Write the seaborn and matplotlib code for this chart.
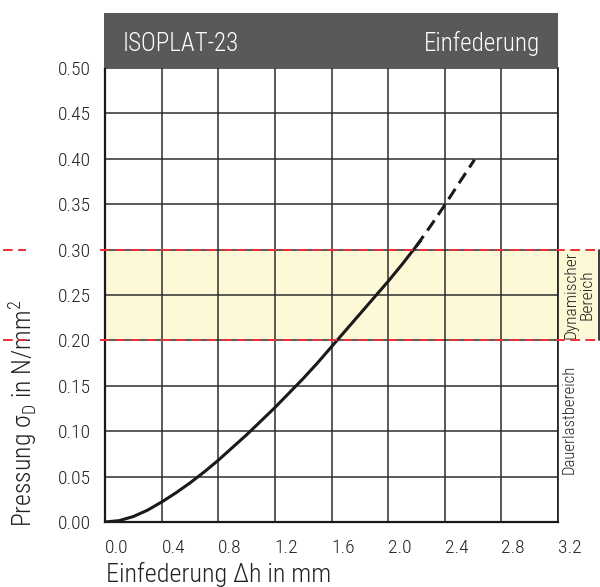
import matplotlib
matplotlib.use("Agg")
import matplotlib.pyplot as plt
import seaborn as sns
import pandas as pd
from matplotlib.patches import Rectangle
from matplotlib.lines import Line2D
from matplotlib import font_manager

# ---- data ----
x_solid = [0.0, 0.1, 0.2, 0.3, 0.4, 0.5, 0.6, 0.7, 0.8, 0.9, 1.0, 1.1, 1.2, 1.3, 1.4, 1.5,
           1.6, 1.7, 1.8, 1.9, 2.0, 2.1, 2.2, 2.23]
y_solid = [0.0, 0.0015, 0.006, 0.013, 0.022, 0.032, 0.043, 0.055, 0.068, 0.082, 0.096, 0.111,
           0.126, 0.142, 0.158, 0.175, 0.193, 0.211, 0.229, 0.247, 0.265, 0.284, 0.304, 0.310]
x_dash = [2.2, 2.3, 2.4, 2.5, 2.61]
y_dash = [0.304, 0.326, 0.349, 0.373, 0.399]
x_ticks = [0.0, 0.4, 0.8, 1.2, 1.6, 2.0, 2.4, 2.8, 3.2]
y_ticks = [0.00, 0.05, 0.10, 0.15, 0.20, 0.25, 0.30, 0.35, 0.40, 0.45, 0.50]
dyn_low, dyn_high = 0.20, 0.30
title_left = "ISOPLAT-23"
title_right = "Einfederung"
x_label = "Einfederung Δh in mm"
y_label = "Pressung σ$_{\\mathregular{D}}$ in N/mm$^{\\mathregular{2}}$"
dyn_label = "Dynamischer\nBereich"
dauer_label = "Dauerlastbereich"

names = {f.name for f in font_manager.fontManager.ttflist}
fam = [n for n in ['Roboto Condensed', 'Liberation Sans Narrow', 'Roboto'] if n in names][:1] + ['DejaVu Sans']

sns.set_theme(style="white")
plt.rcParams['font.family'] = fam
plt.rcParams['font.weight'] = 'light'
plt.rcParams['mathtext.fontset'] = 'custom'
plt.rcParams['mathtext.rm'] = fam[0] + ':light'

W, H = 600, 587
fig = plt.figure(figsize=(W / 100, H / 100), dpi=100)
fig.patch.set_facecolor('white')

def fx(px):
    return px / W

def fy(py):
    return 1 - py / H

L, R, T, B = 105, 558, 68, 522
ax = fig.add_axes([fx(L), fy(B), fx(R) - fx(L), fy(T) - fy(B)])
ax.set_xlim(0, 3.2)
ax.set_ylim(0, 0.5)

ax.axhspan(dyn_low, dyn_high, color='#fdf8d6', zorder=0, lw=0)

ax.set_xticks(x_ticks)
ax.set_yticks(y_ticks)
ax.set_xticklabels([f"{v:.1f}" for v in x_ticks], ha='left', fontsize=14)
ax.set_yticklabels([f"{v:.2f}" for v in y_ticks], fontsize=14)
ax.grid(True, color='#2e2e2e', lw=1.1, zorder=1)
ax.set_axisbelow(True)
ax.tick_params(axis='both', length=0, colors='#222222')
ax.tick_params(axis='x', pad=12)
ax.tick_params(axis='y', pad=10)
ax.spines['top'].set_visible(False)
for s in ['left', 'bottom']:
    ax.spines[s].set_color('#1a1a1a')
    ax.spines[s].set_linewidth(1.6)
ax.spines['right'].set_color('#1a1a1a')
ax.spines['right'].set_linewidth(1.2)

df_s = pd.DataFrame({'x': x_solid, 'y': y_solid})
df_d = pd.DataFrame({'x': x_dash, 'y': y_dash})
sns.lineplot(data=df_s, x='x', y='y', ax=ax, color='#1a1a1a', lw=2.2, sort=False, zorder=5)
sns.lineplot(data=df_d, x='x', y='y', ax=ax, color='#1a1a1a', lw=2.2, sort=False, zorder=5,
             linestyle=(0, (4, 2.2)))
ax.set_xlabel('')
ax.set_ylabel('')

# header box
fig.add_artist(Rectangle((fx(L - 1), fy(T)), fx(R) - fx(L - 1), fy(13) - fy(T), transform=fig.transFigure,
                         facecolor='#58595b', edgecolor='none'))
fig.text(fx(123), fy(51), title_left, color='white', fontsize=18, ha='left', va='baseline')
fig.text(fx(540), fy(51), title_right, color='white', fontsize=18, ha='right', va='baseline')

# right strip
y_hi_px = B - (B - T) * dyn_high / 0.5
y_lo_px = B - (B - T) * dyn_low / 0.5
fig.add_artist(Rectangle((fx(R), fy(y_lo_px)), fx(599) - fx(R), fy(y_hi_px) - fy(y_lo_px),
                         transform=fig.transFigure, facecolor='#fdf8d6', edgecolor='none', zorder=0))
fig.add_artist(Line2D([fx(599), fx(599)], [fy(y_lo_px), fy(y_hi_px)], transform=fig.transFigure,
                      color='#1a1a1a', lw=1.2))

for ypx in (y_hi_px, y_lo_px):
    fig.add_artist(Line2D([fx(100), fx(600)], [fy(ypx), fy(ypx)], transform=fig.transFigure,
                          color='#e8303a', lw=1.4, linestyle=(0, (5, 2.8)), zorder=10))
    fig.add_artist(Line2D([fx(3), fx(26)], [fy(ypx), fy(ypx)], transform=fig.transFigure,
                          color='#e8303a', lw=1.4, linestyle=(0, (5, 2.8)), zorder=10))

fig.text(fx(579), fy((y_hi_px + y_lo_px) / 2), dyn_label, rotation=90, fontsize=12.5,
         ha='center', va='center', color='#222222', linespacing=1.05, multialignment='center')
fig.text(fx(569), fy(419), dauer_label, rotation=90, fontsize=12,
         ha='center', va='center', color='#222222')

fig.text(fx(106), fy(582), x_label, fontsize=18.8, ha='left', va='baseline', color='#222222')
fig.text(fx(23), fy(413), y_label, rotation=90, fontsize=18.5, ha='center', va='center', color='#222222')

fig.savefig('out.png', dpi=100)
